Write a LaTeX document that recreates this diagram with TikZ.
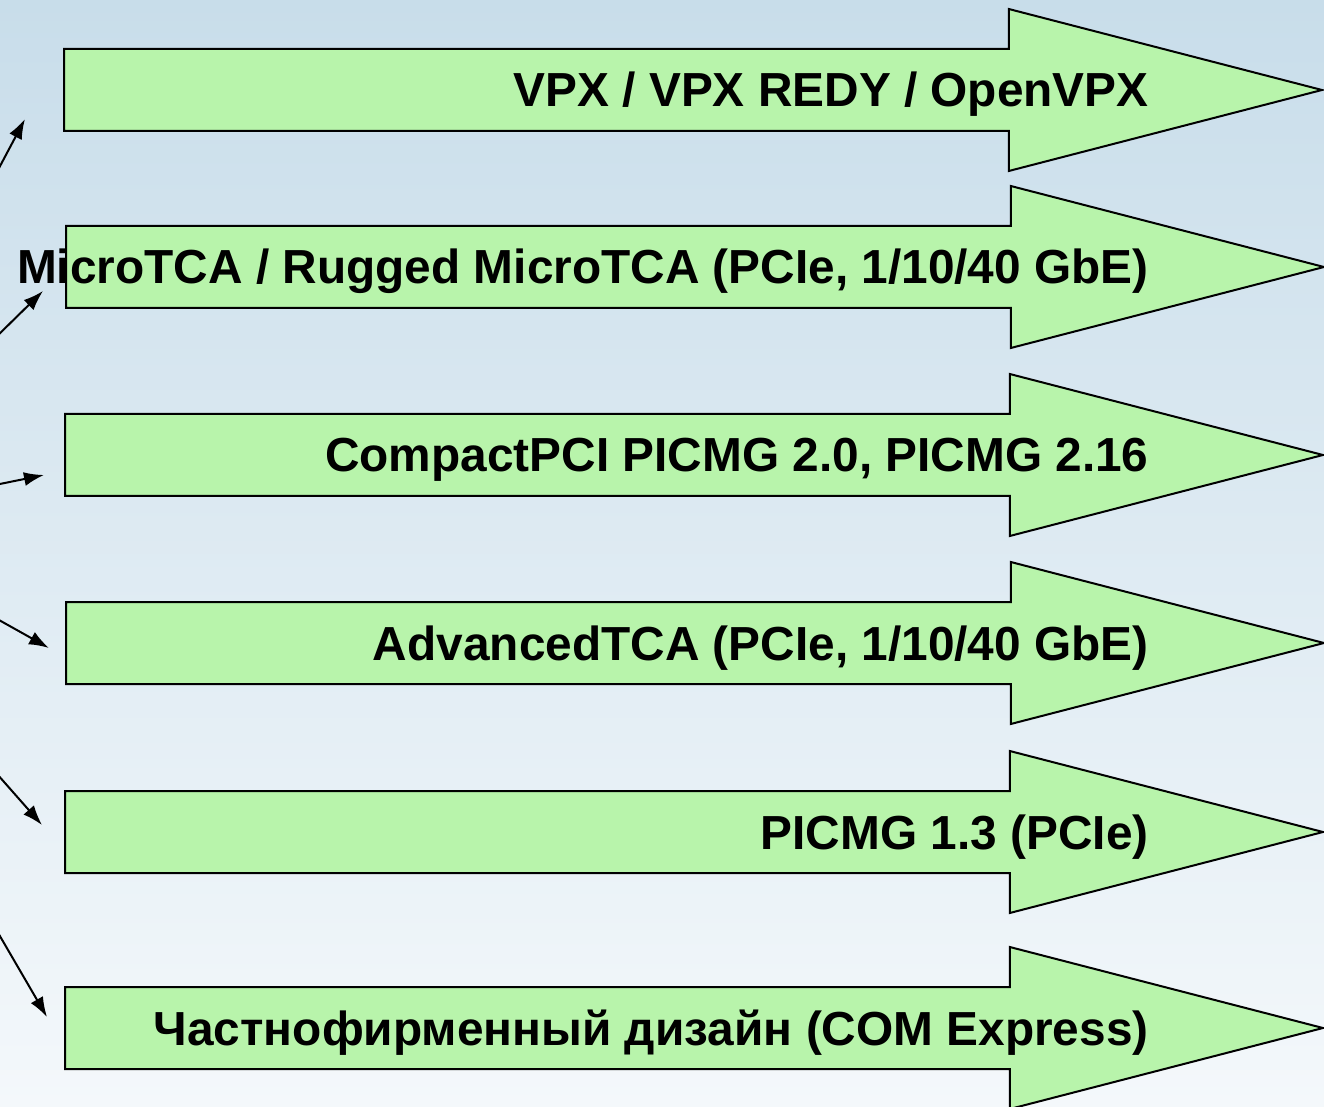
\documentclass[tikz,border=0pt]{standalone}
\usepackage{fontspec}
\setmainfont{Liberation Sans}
\usetikzlibrary{shapes.arrows,positioning,calc,arrows.meta}

\definecolor{bgtop}{HTML}{C8DDEA}
\definecolor{bgmid}{HTML}{D2E6F3}
\definecolor{bgbot}{HTML}{F4F8FB}
\definecolor{busgreen}{HTML}{B8F4AB}

\tikzset{
	busarrow/.style={draw,
		fill=busgreen,
		line width=1pt,
		single arrow,
		single arrow tip angle=29.0,
		single arrow head extend=20pt,
		inner xsep=0pt,
		inner ysep=20pt,
		minimum height=629pt,
		anchor=tail},
	bustext/.style={font=\bfseries\fontsize{23.9}{28}\selectfont,
		anchor=base east,
		inner sep=0pt},
	feed/.style={line width=1pt,-{Latex[length=10pt,width=7pt]}}
}

\begin{document}
\begin{tikzpicture}[x=0.5pt,y=-0.5pt]
		\useasboundingbox (0,0) rectangle (1324,1107);
		\clip (0,0) rectangle (1324,1107);
		\shade[top color=bgtop, middle color=bgmid, bottom color=bgbot] (0,0) rectangle (1324,1107);

		% bus arrows
		\node[busarrow] (vpx) at (63,90) {};
		\node[busarrow] (mtca) at (65,267) {};
		\node[busarrow] (cpci) at (64,455) {};
		\node[busarrow] (atca) at (65,643) {};
		\node[busarrow] (picmg) at (64,832) {};
		\node[busarrow] (custom) at (64,1028) {};

		\node[bustext] (vpx-t) at (1149,107) {VPX / VPX REDY / OpenVPX};
		\node[bustext] (mtca-t) at (1149,284) {MicroTCA / Rugged MicroTCA (PCIe, 1/10/40 GbE)};
		\node[bustext] (cpci-t) at (1149,472) {CompactPCI PICMG 2.0, PICMG 2.16};
		\node[bustext] (atca-t) at (1149,660) {AdvancedTCA (PCIe, 1/10/40 GbE)};
		\node[bustext] (picmg-t) at (1149,849) {PICMG 1.3 (PCIe)};
		\node[bustext] (custom-t) at (1149,1045) {Частнофирменный дизайн (COM Express)};

		% feeds from the left edge
		\coordinate (in1) at (-10,185);
		\coordinate (in2) at (-10,343);
		\coordinate (in3) at (-10,486);
		\coordinate (in4) at (-10,615);
		\coordinate (in5) at (-10,766);
		\coordinate (in6) at (-10,919);
		\coordinate (out1) at (25,119);
		\coordinate (out2) at (43,291);
		\coordinate (out3) at (44,475);
		\coordinate (out4) at (49,648);
		\coordinate (out5) at (42,825);
		\coordinate (out6) at (47,1017);

		\draw[feed] (in1) -- (out1);
		\draw[feed] (in2) -- (out2);
		\draw[feed] (in3) -- (out3);
		\draw[feed] (in4) -- (out4);
		\draw[feed] (in5) -- (out5);
		\draw[feed] (in6) -- (out6);

	\end{tikzpicture}
\end{document}
